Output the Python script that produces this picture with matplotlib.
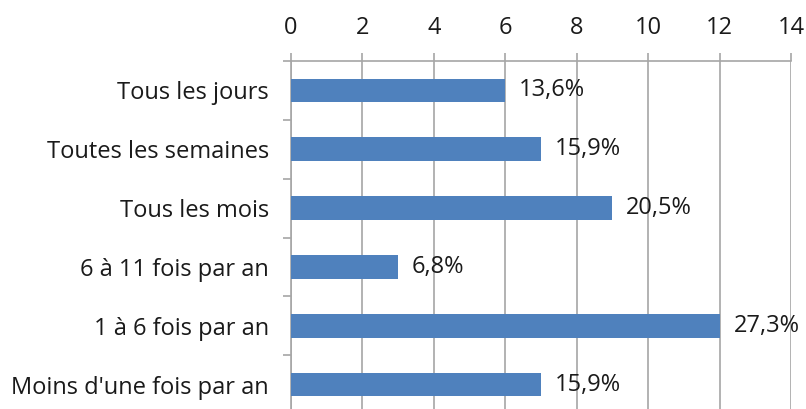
import matplotlib.pyplot as plt
import numpy as np

categories = [
    "Tous les jours",
    "Toutes les semaines",
    "Tous les mois",
    "6 à 11 fois par an",
    "1 à 6 fois par an",
    "Moins d'une fois par an",
]
counts = [6, 7, 9, 3, 12, 7]
pct_labels = ["13,6%", "15,9%", "20,5%", "6,8%", "27,3%", "15,9%"]

plt.rcParams["font.family"] = ["Open Sans", "DejaVu Sans"]

W, H = 806, 409
fig = plt.figure(figsize=(W / 100, H / 100), dpi=100)
ax = fig.add_axes([291 / W, (H - 414) / H, 500 / W, (414 - 61) / H])

grid_col = "#a6a6a6"
txt_col = "#1a1a1a"
fs = 17
y = np.arange(len(categories))
ax.barh(y, counts, height=0.4, color="#4f81bd", zorder=3)

for yi, v, lab in zip(y, counts, pct_labels):
    ax.annotate(lab, (v, yi), xytext=(10, 0), textcoords="offset points",
                va="center", ha="left", fontsize=fs, color=txt_col, zorder=4)

ax.set_xlim(0, 14)
ax.set_ylim(len(categories) - 0.5, -0.5)
ax.set_xticks(np.arange(0, 15, 2))
ax.xaxis.tick_top()
ax.tick_params(axis="x", length=6, width=1.2, color=grid_col, labelsize=fs,
               labelcolor=txt_col, pad=9)
ax.grid(axis="x", color=grid_col, linewidth=1.2, zorder=0)

ax.set_yticks(y)
ax.set_yticklabels(categories, fontsize=fs, color=txt_col)
ax.tick_params(axis="y", length=0, pad=16)
ax.set_yticks(np.arange(-0.5, len(categories), 1), minor=True)
ax.tick_params(axis="y", which="minor", length=6, width=1.2, color=grid_col)

for s in ["right", "bottom"]:
    ax.spines[s].set_visible(False)
for s in ["left", "top"]:
    ax.spines[s].set_color(grid_col)
    ax.spines[s].set_linewidth(1.2)

fig.savefig("out.png", dpi=100)
